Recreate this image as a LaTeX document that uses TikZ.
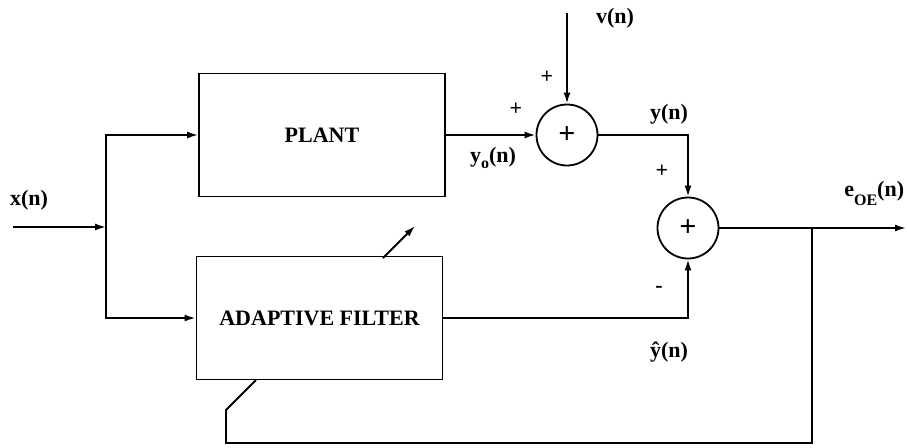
\documentclass[tikz,border=0pt]{standalone}
\usepackage{fontspec}
\setmainfont{Liberation Serif}
\usetikzlibrary{arrows.meta}
\tikzset{
	block/.style = {draw, line width = 0.9pt, minimum width = 123pt, minimum height = 61.5pt, font = \bfseries\fontsize{11}{13}\selectfont},
	sum/.style = {draw, circle, line width = 0.9pt, minimum size = 30.5pt, inner sep = 0pt, font = \bfseries\fontsize{15}{17}\selectfont},
	lbl/.style = {inner sep = 0pt, font = \bfseries\fontsize{11}{13}\selectfont},
	tip/.style = {-{Latex[length = 5.5pt, width = 3.5pt]}}
}

\begin{document}
\begin{tikzpicture}[x = 0.5pt, y = -0.5pt, line width = 0.9pt]
	\useasboundingbox (0,0) rectangle (907,447);

	\node (plant)[block] at (322,135) {PLANT};
	\node (filter)[block] at (319.5,318) {ADAPTIVE FILTER};
	\node (sum1)[sum] at (567,135) {+};
	\node (sum2)[sum] at (688,228) {+};

	\coordinate (in) at (13,227);
	\coordinate (j) at (106,227);
	\coordinate (vin) at (567,13);
	\coordinate (tap) at (812,228);
	\coordinate (out) at (906,228);
	\coordinate (fb1) at (812,443);
	\coordinate (fb2) at (226,443);
	\coordinate (fb3) at (226,410);
	\coordinate (fb4) at (256,380);
	\coordinate (adj1) at (383,258);
	\coordinate (adj2) at (415,226);

	\node (x)[lbl] at (29,200) {x(n)};
	\node (v)[lbl] at (615,18) {v(n)};
	\node (p1)[lbl] at (547,77) {+};
	\node (p2)[lbl] at (516,109) {+};
	\node (yo)[lbl] at (493,158) {y\raisebox{-0.55ex}{\fontsize{8}{9}\selectfont o}(n)};
	\node (y)[lbl] at (669,114) {y(n)};
	\node (p3)[lbl] at (662,171) {+};
	\node (m)[lbl] at (659,289) {-};
	\node (yh)[lbl] at (669,352) {\^{y}(n)};
	\node (e)[lbl, anchor = east] at (905,193) {e\raisebox{-0.9ex}{\fontsize{8}{9}\selectfont OE}(n)};

	\draw [tip](in)--(j);
	\draw [tip](j)|-(plant);
	\draw [tip](j)|-(filter);
	\draw [tip](plant)--(sum1);
	\draw [tip](vin)--(sum1);
	\draw [tip](sum1)-|(sum2);
	\draw [tip](filter)-|(sum2);
	\draw [tip](sum2)--(out);
	\draw (tap)--(fb1)--(fb2)--(fb3)--(fb4);
	\draw [tip](adj1)--(adj2);
\end{tikzpicture}
\end{document}
